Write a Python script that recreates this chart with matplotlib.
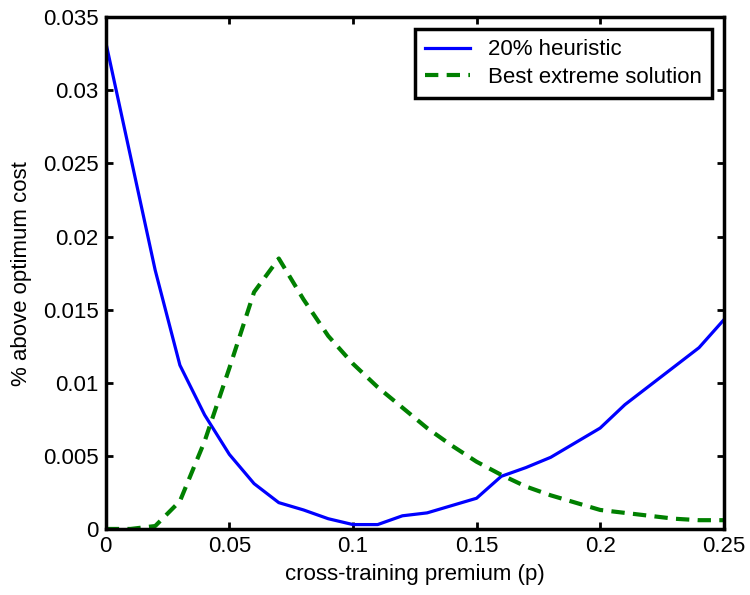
import numpy as np
import matplotlib.pyplot as plt

plt.rcParams['font.family'] = ['Liberation Sans', 'DejaVu Sans']

p = [0.00, 0.01, 0.02, 0.03, 0.04, 0.05, 0.06, 0.07, 0.08, 0.09, 0.10, 0.11, 0.12,
     0.13, 0.14, 0.15, 0.16, 0.17, 0.18, 0.19, 0.20, 0.21, 0.22, 0.23, 0.24, 0.25]
heuristic = [0.0333, 0.0255, 0.0177, 0.0112, 0.0078, 0.0051, 0.0031, 0.0018, 0.0013,
             0.0007, 0.0003, 0.0003, 0.0009, 0.0011, 0.0016, 0.0021, 0.0036, 0.0042,
             0.0049, 0.0059, 0.0069, 0.0085, 0.0098, 0.0111, 0.0124, 0.0143]
extreme = [0.0, 0.0, 0.0002, 0.0019, 0.0060, 0.0110, 0.0162, 0.0185, 0.0157, 0.0132,
           0.0113, 0.0097, 0.0083, 0.0069, 0.0057, 0.0046, 0.0037, 0.0029, 0.0023,
           0.0018, 0.0013, 0.0011, 0.0009, 0.0007, 0.0006, 0.0006]

fig = plt.figure(figsize=(7.5, 5.95), dpi=100)
ax = fig.add_axes([0.141, 0.111, 0.824, 0.86])

ax.plot(p, heuristic, color='#0000ff', lw=2.3, label='20% heuristic')
ax.plot(p, extreme, color='#008000', lw=3, ls=(0, (3.2, 2)), label='Best extreme solution')

ax.set_xlim(0, 0.25)
ax.set_ylim(0, 0.035)
ax.set_xticks([0, 0.05, 0.1, 0.15, 0.2, 0.25])
ax.set_xticklabels(['0', '0.05', '0.1', '0.15', '0.2', '0.25'])
ax.set_yticks([0, 0.005, 0.01, 0.015, 0.02, 0.025, 0.03, 0.035])
ax.set_yticklabels(['0', '0.005', '0.01', '0.015', '0.02', '0.025', '0.03', '0.035'])
ax.tick_params(direction='in', length=5, width=2, top=True, right=True, labelsize=16, pad=5)
for s in ax.spines.values():
    s.set_linewidth(2.5)

ax.set_xlabel('cross-training premium (p)', fontsize=16, labelpad=5)
ax.set_ylabel('% above optimum cost', fontsize=16, labelpad=8)

leg = ax.legend(loc='upper right', fontsize=16, fancybox=False, framealpha=1,
                edgecolor='black', borderaxespad=0.55, handlelength=2.0,
                borderpad=0.45, labelspacing=0.3)
leg.get_frame().set_linewidth(2.5)

fig.savefig('out.png', dpi=100)
